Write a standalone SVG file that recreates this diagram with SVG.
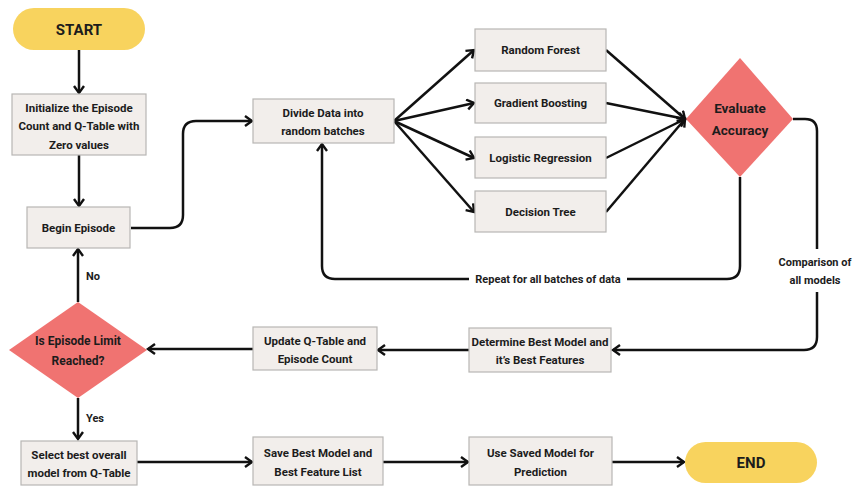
<svg xmlns="http://www.w3.org/2000/svg" width="854" height="486" viewBox="0 0 854 486">
  <style>
    text { font-family: Roboto, "Liberation Sans", sans-serif; font-weight: 700; fill: #1c1c1c; text-anchor: middle; }
    .box { fill: #f2eeeb; stroke: #b8b6b4; stroke-width: 1.2; }
    .pill { fill: #f8d35e; }
    .dia { fill: #f07371; }
    .t { font-size: 11.5px; }
    .lbl { font-size: 11px; }
    .big { font-size: 15px; }
    .dt { font-size: 13.5px; }
    .dq { font-size: 12px; }
    .conn path, .conn line { fill: none; stroke: #111; stroke-width: 2.5; }
    .arr { marker-end: url(#ah); }
  </style>
  <defs>
    <marker id="ah" markerUnits="userSpaceOnUse" markerWidth="12" markerHeight="14" refX="8" refY="6" orient="auto">
      <path d="M1,1 L8,6 L1,11" fill="none" stroke="#111" stroke-width="2.4"/>
    </marker>
  </defs>
  <rect width="854" height="486" fill="#ffffff"/>

  <!-- connectors -->
  <g id="connectors" class="conn">
    <line class="arr" x1="79" y1="50" x2="79" y2="93"/>
    <line class="arr" x1="79" y1="155" x2="79" y2="206"/>
    <path class="arr" d="M131,228 H170 Q183,228 183,215 V134 Q183,121 196,121 H252"/>
    <line class="arr" x1="394" y1="121" x2="474" y2="50"/>
    <line class="arr" x1="394" y1="121" x2="474" y2="103"/>
    <line class="arr" x1="394" y1="121" x2="474" y2="158"/>
    <line class="arr" x1="394" y1="121" x2="474" y2="212"/>
    <line class="arr" x1="606" y1="50" x2="685" y2="119"/>
    <line class="arr" x1="606" y1="103" x2="685" y2="119"/>
    <line class="arr" x1="606" y1="158" x2="685" y2="119"/>
    <line class="arr" x1="606" y1="212" x2="685" y2="119"/>
    <!-- batch loop back to the data split -->
    <path d="M740,177 V266 Q740,279 727,279 H627"/>
    <path class="arr" d="M469,279 H335 Q322,279 322,266 V144"/>
    <!-- model comparison path -->
    <path d="M793,119 H805 Q817,119 817,131 V249"/>
    <path class="arr" d="M817,292 V337 Q817,350 804,350 H613"/>
    <line class="arr" x1="469" y1="350" x2="378" y2="350"/>
    <line class="arr" x1="253" y1="349" x2="148" y2="349"/>
    <line class="arr" x1="78" y1="302" x2="78" y2="249"/>
    <line class="arr" x1="78" y1="398" x2="78" y2="439"/>
    <line class="arr" x1="137" y1="462" x2="252" y2="462"/>
    <line class="arr" x1="383" y1="462" x2="468" y2="462"/>
    <line class="arr" x1="612" y1="462" x2="684" y2="462"/>
    <text class="lbl" x="548" y="283">Repeat for all batches of data</text>
    <text class="lbl" x="815" y="266">Comparison of</text>
    <text class="lbl" x="815" y="284">all models</text>
    <text class="lbl" x="93" y="280">No</text>
    <text class="lbl" x="95" y="422">Yes</text>
  </g>

  <g id="start">
    <rect class="pill" x="13" y="8" width="132" height="42" rx="21"/>
    <text class="big" x="79" y="34.5">START</text>
  </g>
  <g id="init">
    <rect class="box" x="12" y="94" width="134" height="61"/>
    <text class="t" x="79" y="112">Initialize the Episode</text>
    <text class="t" x="79" y="130">Count and Q-Table with</text>
    <text class="t" x="79" y="149">Zero values</text>
  </g>
  <g id="begin">
    <rect class="box" x="27" y="207" width="103" height="41"/>
    <text class="t" x="78.5" y="232">Begin Episode</text>
  </g>
  <g id="divide">
    <rect class="box" x="253" y="99" width="141" height="44"/>
    <text class="t" x="323" y="117">Divide Data into</text>
    <text class="t" x="323" y="135">random batches</text>
  </g>
  <g id="random-forest">
    <rect class="box" x="475" y="29" width="131" height="42"/>
    <text class="t" x="540.5" y="54">Random Forest</text>
  </g>
  <g id="gradient-boosting">
    <rect class="box" x="475" y="83" width="131" height="40"/>
    <text class="t" x="540.5" y="107">Gradient Boosting</text>
  </g>
  <g id="logistic-regression">
    <rect class="box" x="475" y="137" width="131" height="41"/>
    <text class="t" x="540.5" y="162">Logistic Regression</text>
  </g>
  <g id="decision-tree">
    <rect class="box" x="475" y="191" width="131" height="41"/>
    <text class="t" x="540.5" y="216">Decision Tree</text>
  </g>
  <g id="evaluate">
    <polygon class="dia" points="740,58 793,119 740,177 686,119"/>
    <text class="dt" x="740" y="113">Evaluate</text>
    <text class="dt" x="740" y="135">Accuracy</text>
  </g>
  <g id="determine">
    <rect class="box" x="469" y="328" width="142" height="44"/>
    <text class="t" x="540" y="346">Determine Best Model and</text>
    <text class="t" x="540" y="364">it’s Best Features</text>
  </g>
  <g id="update">
    <rect class="box" x="253" y="327" width="124" height="43"/>
    <text class="t" x="315" y="345">Update Q-Table and</text>
    <text class="t" x="315" y="363">Episode Count</text>
  </g>
  <g id="episode-limit">
    <polygon class="dia" points="78,302 147,350 78,398 9,350"/>
    <text class="dq" x="78" y="345">Is Episode Limit</text>
    <text class="dq" x="78" y="365">Reached?</text>
  </g>
  <g id="select">
    <rect class="box" x="21" y="441" width="116" height="44"/>
    <text class="t" x="79" y="459">Select best overall</text>
    <text class="t" x="79" y="477">model from Q-Table</text>
  </g>
  <g id="save">
    <rect class="box" x="253" y="437" width="130" height="48"/>
    <text class="t" x="318" y="457">Save Best Model and</text>
    <text class="t" x="318" y="476">Best Feature List</text>
  </g>
  <g id="use-saved">
    <rect class="box" x="469" y="437" width="143" height="48"/>
    <text class="t" x="540.5" y="457">Use Saved Model for</text>
    <text class="t" x="540.5" y="476">Prediction</text>
  </g>
  <g id="end">
    <rect class="pill" x="685" y="442" width="132" height="41" rx="20.5"/>
    <text class="big" x="751" y="468">END</text>
  </g>
</svg>
